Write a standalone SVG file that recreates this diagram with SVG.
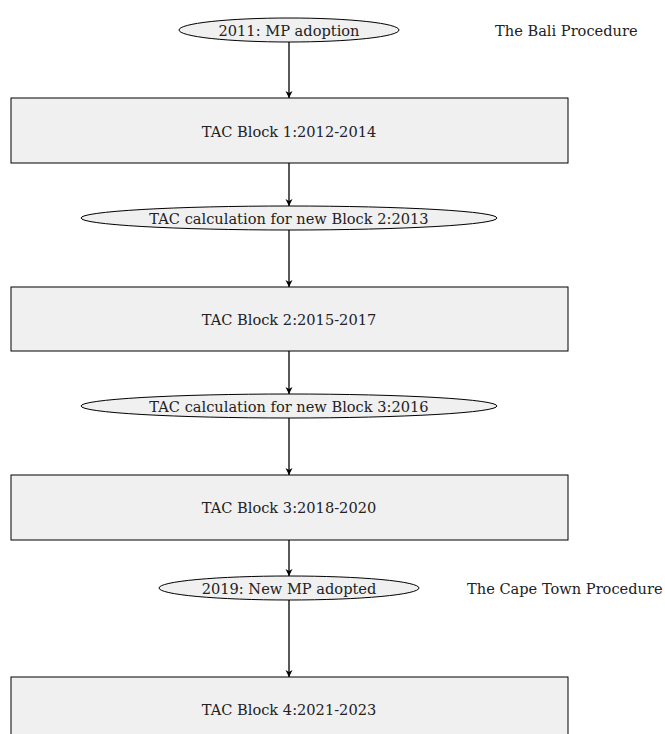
<svg xmlns="http://www.w3.org/2000/svg" width="665" height="734" viewBox="0 0 665 734">
<defs>
<marker id="ah" markerWidth="8" markerHeight="8" refX="7" refY="4" orient="auto" markerUnits="userSpaceOnUse">
<path d="M0,0.5 L7,4 L0,7.5 L2,4 Z" fill="#000"/>
</marker>
<style>
.n{fill:#f0f0f0;stroke:#000;stroke-width:1}
.t{font-family:"DejaVu Serif","Liberation Serif",serif;font-size:14.6px;fill:#222;text-anchor:middle;dominant-baseline:central}
.l{font-family:"DejaVu Serif","Liberation Serif",serif;font-size:14.6px;fill:#222;dominant-baseline:central}
.c{stroke:#000;stroke-width:1.3;fill:none;marker-end:url(#ah)}
</style>
</defs>
<rect width="665" height="734" fill="#fff"/>
<g id="connectors">
<line class="c" x1="289" y1="42" x2="289" y2="98"/>
<line class="c" x1="289" y1="163" x2="289" y2="206"/>
<line class="c" x1="289" y1="230" x2="289" y2="287"/>
<line class="c" x1="289" y1="351" x2="289" y2="394"/>
<line class="c" x1="289" y1="418" x2="289" y2="475"/>
<line class="c" x1="289" y1="540" x2="289" y2="576"/>
<line class="c" x1="289" y1="600" x2="289" y2="677"/>
</g>
<g id="e1"><ellipse class="n" cx="289" cy="30" rx="110" ry="12"/><text class="t" x="289" y="30">2011: MP adoption</text></g>
<g id="r1"><rect class="n" x="11" y="98" width="557" height="65"/><text class="t" x="289" y="131">TAC Block 1:2012-2014</text></g>
<g id="e2"><ellipse class="n" cx="289" cy="218" rx="208" ry="12"/><text class="t" x="289" y="218">TAC calculation for new Block 2:2013</text></g>
<g id="r2"><rect class="n" x="11" y="287" width="557" height="64"/><text class="t" x="289" y="319">TAC Block 2:2015-2017</text></g>
<g id="e3"><ellipse class="n" cx="289" cy="406" rx="208" ry="12"/><text class="t" x="289" y="406">TAC calculation for new Block 3:2016</text></g>
<g id="r3"><rect class="n" x="11" y="475" width="557" height="65"/><text class="t" x="289" y="507">TAC Block 3:2018-2020</text></g>
<g id="e4"><ellipse class="n" cx="289" cy="588" rx="130" ry="12"/><text class="t" x="289" y="588">2019: New MP adopted</text></g>
<g id="r4"><rect class="n" x="11" y="677" width="557" height="65"/><text class="t" x="289" y="709">TAC Block 4:2021-2023</text></g>
<g id="labels">
<text class="l" x="495" y="30">The Bali Procedure</text>
<text class="l" x="467" y="588">The Cape Town Procedure</text>
</g>
</svg>
